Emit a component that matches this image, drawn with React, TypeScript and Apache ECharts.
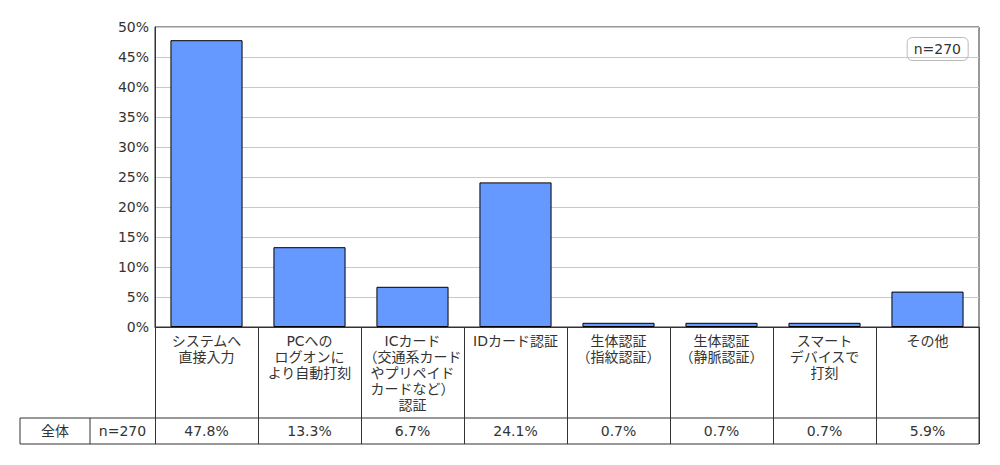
import React, { useEffect, useRef } from "react";
import * as echarts from "echarts";

const categories = [
  "システムへ\n直接入力",
  "PCへの\nログオンに\nより自動打刻",
  "ICカード\n（交通系カード\nやプリペイド\nカードなど）\n認証",
  "IDカード認証",
  "生体認証\n（指紋認証）",
  "生体認証\n（静脈認証）",
  "スマート\nデバイスで\n打刻",
  "その他",
];
const values = [47.8, 13.3, 6.7, 24.1, 0.7, 0.7, 0.7, 5.9];
const yTicks = { min: 0, max: 50, interval: 5 };
const rowLabel = "全体";
const sampleLabel = "n=270";

const FONT = "'DejaVu Sans', 'Noto Sans CJK JP', sans-serif";
const TXT = "#333";
const LINE = "#333";

export default function App() {
  const ref = useRef<HTMLDivElement>(null);
  useEffect(() => {
    document.body.style.margin = "0";
    if (!ref.current) return;
    const chart = echarts.init(ref.current, undefined, { renderer: "svg" });
    const L = 155, R = 979, T = 27, B = 327, ROW1 = 418, ROW2 = 444, TL = 20, TD = 90;
    const ls = { stroke: LINE, lineWidth: 1 };
    chart.setOption({
      animation: false,
      textStyle: { fontFamily: FONT },
      title: {
        text: sampleLabel,
        right: 32,
        top: 37,
        padding: [5, 7],
        borderColor: "#bbb",
        borderWidth: 1,
        borderRadius: 5,
        textStyle: { fontFamily: FONT, fontSize: 14, fontWeight: "normal", color: TXT },
      },
      grid: {
        left: L,
        right: 1000 - R,
        top: T,
        bottom: 465 - B,
        show: true,
        borderColor: LINE,
        borderWidth: 1,
      },
      xAxis: [
        {
          type: "category",
          data: categories,
          position: "bottom",
          axisLine: { show: true, lineStyle: { color: LINE } },
          axisTick: { show: true, length: ROW2 - B, lineStyle: { color: LINE } },
          axisLabel: {
            interval: 0,
            margin: 6,
            fontSize: 14,
            lineHeight: 16,
            color: TXT,
            fontFamily: FONT,
            verticalAlign: "top",
          },
        },
        {
          type: "category",
          data: categories,
          position: "bottom",
          offset: (ROW1 + ROW2) / 2 - B,
          axisLine: { show: false },
          axisTick: { show: false },
          axisLabel: {
            interval: 0,
            margin: 0,
            fontSize: 14,
            color: TXT,
            fontFamily: FONT,
            verticalAlign: "middle",
            formatter: (_v: string, i: number) => values[i].toFixed(1) + "%",
          },
        },
      ],
      yAxis: {
        type: "value",
        min: yTicks.min,
        max: yTicks.max,
        interval: yTicks.interval,
        axisLine: { show: true, lineStyle: { color: LINE } },
        axisTick: { show: false },
        splitLine: { lineStyle: { color: "#c8c8c8" } },
        axisLabel: {
          formatter: "{value}%",
          fontSize: 14,
          color: TXT,
          margin: 6,
          fontFamily: FONT,
        },
      },
      series: [
        {
          type: "bar",
          data: values,
          barCategoryGap: "30%",
          itemStyle: { color: "#6699ff", borderColor: "#000", borderWidth: 1 },
        },
      ],
      graphic: [
        { type: "line", shape: { x1: TL, y1: ROW1, x2: R, y2: ROW1 }, style: ls, silent: true },
        { type: "line", shape: { x1: TL, y1: ROW2, x2: R, y2: ROW2 }, style: ls, silent: true },
        { type: "line", shape: { x1: TL, y1: ROW1, x2: TL, y2: ROW2 }, style: ls, silent: true },
        { type: "line", shape: { x1: TD, y1: ROW1, x2: TD, y2: ROW2 }, style: ls, silent: true },
        { type: "line", shape: { x1: R, y1: B, x2: R, y2: ROW2 }, style: ls, silent: true },
        {
          type: "text",
          x: (TL + TD) / 2,
          y: (ROW1 + ROW2) / 2,
          style: { text: rowLabel, fill: TXT, font: `14px ${FONT}`, align: "center", verticalAlign: "middle" },
        },
        {
          type: "text",
          x: (TD + L) / 2,
          y: (ROW1 + ROW2) / 2,
          style: { text: sampleLabel, fill: TXT, font: `14px ${FONT}`, align: "center", verticalAlign: "middle" },
        },
      ],
    });
    return () => chart.dispose();
  }, []);
  return <div ref={ref} style={{ width: 1000, height: 465 }} />;
}
